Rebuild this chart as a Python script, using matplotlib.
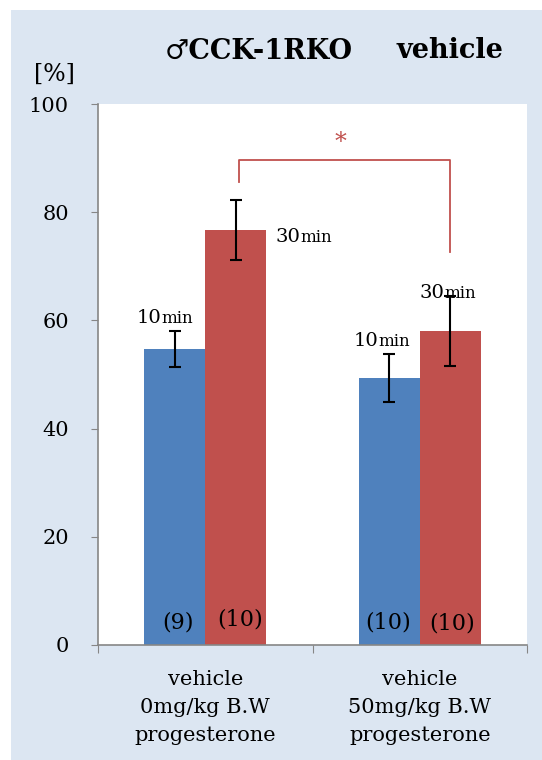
import numpy as np
import matplotlib
matplotlib.use("Agg")
import matplotlib.pyplot as plt
from matplotlib.patches import Rectangle

plt.rcParams['font.family'] = ['DejaVu Serif', 'DejaVu Sans']

# データ
groups = ["vehicle\n0mg/kg B.W\nprogesterone", "vehicle\n50mg/kg B.W\nprogesterone"]
mean_10 = [54.7, 49.4]
err_10 = [3.3, 4.4]
n_10 = ["(9)", "(10)"]
mean_30 = [76.7, 58.0]
err_30 = [5.5, 6.5]
n_30 = ["(10)", "(10)"]
yticks = [0, 20, 40, 60, 80, 100]

blue = "#4F81BD"
red = "#C0504D"
bg = "#DCE6F2"

fig = plt.figure(figsize=(5.42, 7.6), dpi=100)
fig.patch.set_facecolor("white")
# 背景パネル
fig.patches.append(Rectangle((11 / 542, 0), 1 - 11 / 542, 1 - 10 / 760,
                             transform=fig.transFigure, facecolor=bg,
                             edgecolor="none", zorder=-1))

ax = fig.add_axes((98 / 542, 1 - 645 / 760, 429 / 542, 541 / 760))
ax.set_facecolor("white")

x = np.arange(len(groups))
w = 0.284
ax.bar(x - w / 2, mean_10, w, color=blue, zorder=2)
ax.bar(x + w / 2, mean_30, w, color=red, zorder=2)
ax.errorbar(x - w / 2, mean_10, yerr=err_10, fmt="none", ecolor="black",
            elinewidth=1.5, capsize=4.5, capthick=1.5, zorder=3)
ax.errorbar(x + w / 2, mean_30, yerr=err_30, fmt="none", ecolor="black",
            elinewidth=1.5, capsize=4.5, capthick=1.5, zorder=3)

ax.set_xlim(-0.5, 1.5)
ax.set_ylim(0, 100)
ax.set_yticks(yticks)
ax.set_yticklabels([str(t) for t in yticks], fontsize=15)
ax.set_xticks([-0.5, 0.5, 1.5])
ax.set_xticklabels([])
ax.set_xticks(x, minor=True)
ax.set_xticklabels(groups, minor=True, fontsize=15, linespacing=1.6)
ax.tick_params(axis="x", which="minor", length=0, pad=18)
ax.tick_params(axis="x", which="major", length=6, color="#868686")
ax.tick_params(axis="y", length=5, color="#868686", pad=16)
for s in ["top", "right"]:
    ax.spines[s].set_visible(False)
for s in ["left", "bottom"]:
    ax.spines[s].set_color("#868686")
    ax.spines[s].set_linewidth(1.2)

# 時間ラベル (10min / 30min)
def time_label(xc, yc, num):
    ax.annotate(num, (xc, yc), ha="right", va="baseline", fontsize=14,
                zorder=4)
    ax.annotate("min", (xc, yc), ha="left", va="baseline", fontsize=12,
                zorder=4)

time_label(-0.205, 59.5, "10")
time_label(0.445, 74.5, "30")
time_label(0.805, 55.2, "10")
time_label(1.115, 64.2, "30")

# 匹数
n_pos = [(-0.126, 4.1), (0.163, 4.8), (0.853, 4.25), (1.151, 3.9)]
for (xc, yc), n in zip(n_pos, [n_10[0], n_30[0], n_10[1], n_30[1]]):
    ax.text(xc, yc, n, ha="center", va="center", fontsize=16, zorder=4)

# 有意差
ax.plot([0.158, 0.158, 1.142, 1.142], [85.6, 89.6, 89.6, 72.6],
        color=red, lw=1.3, zorder=4)
ax.text(0.63, 90.8, "*", color=red, ha="center", va="bottom", fontsize=17)

fig.text(54 / 542, 1 - 74 / 760, "[%]", ha="center", va="center", fontsize=17)
fig.text(165 / 542, 1 - 51 / 760, "♂CCK-1RKO", ha="left",
         va="center", fontsize=19.5, fontweight="bold")
fig.text(397 / 542, 1 - 51 / 760, "vehicle", ha="left",
         va="center", fontsize=19.5, fontweight="bold")

plt.savefig("out.png", dpi=100)
plt.close()
